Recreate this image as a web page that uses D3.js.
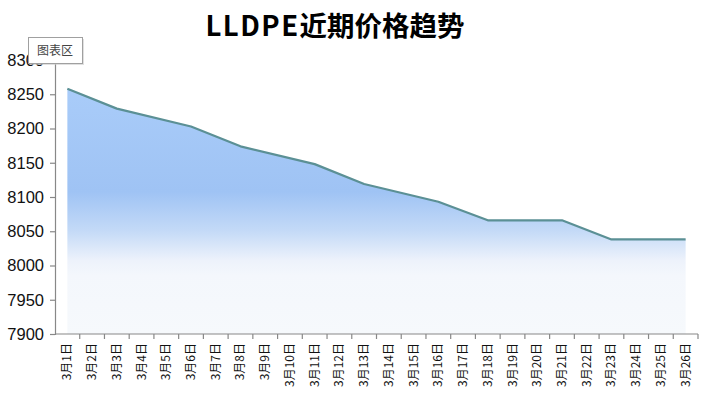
<!DOCTYPE html>
<html>
<head>
<meta charset="utf-8">
<script src="https://cdn.jsdelivr.net/npm/d3@7/dist/d3.min.js"></script>
<style>
  body { margin: 0; background: #fff; }
  svg { display: block; }
</style>
</head>
<body>
<div id="mainwindow"></div>
<script>
// chart data - dates on the x axis, price per day (null = no quote that day)
const days = ["3月1日","3月2日","3月3日","3月4日","3月5日","3月6日","3月7日","3月8日","3月9日",
  "3月10日","3月11日","3月12日","3月13日","3月14日","3月15日","3月16日","3月17日","3月18日",
  "3月19日","3月20日","3月21日","3月22日","3月23日","3月24日","3月25日","3月26日"];
const prices = [8258, null, 8229, null, null, 8203, null, 8174, null,
  null, 8148, null, 8119, null, null, 8093, null, 8066,
  null, null, 8066, null, 8038, null, null, 8038];
const yTicks = [7900, 7950, 8000, 8050, 8100, 8150, 8200, 8250, 8300];
const titleLatin = "LLDPE",
  titleCn = "近期价格趋势";

const width = 706,
  height = 396;

const svg = d3.select("#mainwindow")
  .append("svg")
  .attr("width", width)
  .attr("height", height);

// scales
const x = d3.scaleBand().domain(days).range([55, 698]);
const y = d3.scaleLinear().domain([7900, 8300]).range([334, 60]);

// gradient for the area
const grad = svg.append("defs").append("linearGradient")
  .attr("id", "areaGrad")
  .attr("x1", 0).attr("y1", 0).attr("x2", 0).attr("y2", 1);
[[0, "#a9ccf9"], [0.42, "#9fc3f4"], [0.58, "#c4daf7"], [0.7, "#edf2fb"], [0.76, "#f4f7fc"], [1, "#f6f9fc"]]
  .forEach(s => grad.append("stop").attr("offset", s[0]).attr("stop-color", s[1]));

// only days that have a price; excel joins the gaps with a straight line
const pts = days.map((d, i) => ({ day: d, v: prices[i] })).filter(d => d.v != null);

const cx = d => x(d.day) + x.bandwidth() / 2;

svg.append("path")
  .datum(pts)
  .attr("fill", "url(#areaGrad)")
  .attr("d", d3.area().x(cx).y0(y(7900)).y1(d => y(d.v)));

svg.append("path")
  .datum(pts)
  .attr("fill", "none")
  .attr("stroke", "#5b9095")
  .attr("stroke-width", 2.2)
  .attr("stroke-linejoin", "round")
  .attr("d", d3.line().x(cx).y(d => y(d.v)));

// y axis
const yAxis = svg.append("g")
  .attr("transform", "translate(55,0)")
  .call(d3.axisLeft(y).tickValues(yTicks).tickSize(5).tickPadding(6).tickFormat(d3.format("d")));
yAxis.select(".domain").attr("stroke", "#888").attr("stroke-width", 1.2);
yAxis.selectAll(".tick line").attr("stroke", "#888").attr("stroke-width", 1.2);
yAxis.selectAll("text")
  .attr("fill", "#111")
  .style("font-family", "'Liberation Sans', Arial, sans-serif")
  .style("font-size", "16.5px");

// x axis - ticks between the categories
const xg = svg.append("g").attr("transform", `translate(0,${y(7900)})`);
xg.append("line")
  .attr("x1", 55).attr("x2", 698)
  .attr("stroke", "#888").attr("stroke-width", 1.2);
xg.selectAll(".tk")
  .data(days)
  .join("line")
  .attr("class", "tk")
  .attr("x1", d => x(d) + x.bandwidth()).attr("x2", d => x(d) + x.bandwidth())
  .attr("y1", 0).attr("y2", 5)
  .attr("stroke", "#888").attr("stroke-width", 1.2);
xg.selectAll(".lbl")
  .data(days)
  .join("text")
  .attr("class", "lbl")
  .attr("transform", d => `translate(${x(d) + x.bandwidth() / 2 + 4},9) rotate(-90)`)
  .attr("text-anchor", "end")
  .attr("fill", "#111")
  .style("font-family", "'Noto Sans CJK SC', sans-serif")
  .style("font-size", "12px")
  .text(d => d);

// title
const t = svg.append("text")
  .attr("x", 335).attr("y", 36)
  .attr("text-anchor", "middle")
  .style("font-family", "'Noto Sans CJK SC', sans-serif")
  .style("font-weight", "bold")
  .style("font-size", "27.5px")
  .attr("fill", "#000");
t.append("tspan").style("letter-spacing", "1.5px").text(titleLatin);
t.append("tspan").text(titleCn);

// the "chart area" hover tip from excel
const tip = svg.append("g").attr("transform", "translate(28,37)");
tip.append("rect")
  .attr("x", 2).attr("y", 2).attr("width", 54).attr("height", 26)
  .attr("fill", "#ccc").attr("opacity", 0.6);
tip.append("rect")
  .attr("x", 0.5).attr("y", 0.5).attr("width", 54).attr("height", 26)
  .attr("fill", "#fff").attr("stroke", "#a0a0a0");
tip.append("text")
  .attr("x", 27).attr("y", 18)
  .attr("text-anchor", "middle")
  .attr("fill", "#444")
  .style("font-family", "'Noto Sans CJK SC', sans-serif")
  .style("font-size", "12px")
  .text("图表区");
</script>
</body>
</html>
